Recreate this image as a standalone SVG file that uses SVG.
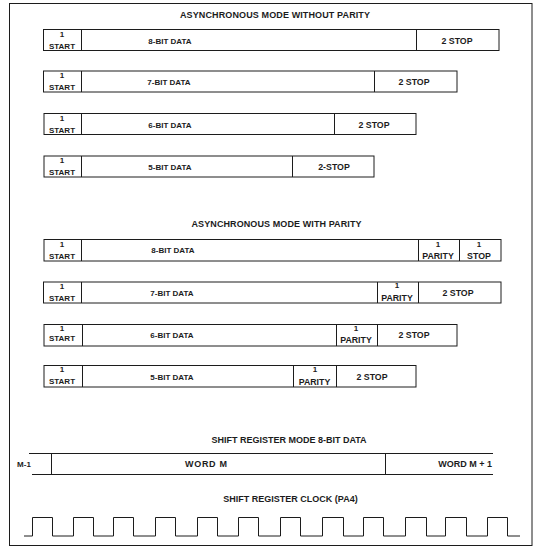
<svg xmlns="http://www.w3.org/2000/svg" width="539" height="549" viewBox="0 0 539 549">
<style>
.ln{fill:none;stroke:#1c1c1c;stroke-width:1}
.t{font-family:"Liberation Sans",Arial,Helvetica,sans-serif;font-weight:bold;font-size:8px;fill:#1c1c1c;text-anchor:middle}
.h{font-size:9px}
.s{font-size:8.8px}
.e{text-anchor:end}
</style>
<rect x="0" y="0" width="539" height="549" fill="#ffffff"/>
<rect id="frame" class="ln" x="9.5" y="3.5" width="522.5" height="542"/>

<g id="titles">
<text class="t h" x="275" y="18" textLength="190" lengthAdjust="spacing">ASYNCHRONOUS MODE WITHOUT PARITY</text>
<text class="t h" x="276.5" y="227" textLength="170" lengthAdjust="spacing">ASYNCHRONOUS MODE WITH PARITY</text>
<text class="t h" x="289" y="443">SHIFT REGISTER MODE 8-BIT DATA</text>
<text class="t h" x="290.5" y="502">SHIFT REGISTER CLOCK (PA4)</text>
</g>

<!-- Without parity -->
<g id="np8">
<rect class="ln" x="43.5" y="29.5" width="455.5" height="21"/>
<path class="ln" d="M81.5 29.5V50.5M416.5 29.5V50.5"/>
<text class="t" x="62" y="36.5">1</text>
<text class="t" x="62" y="48.5">START</text>
<text class="t" x="170" y="44">8-BIT DATA</text>
<text class="t s" x="457" y="44">2 STOP</text>
</g>
<g id="np7">
<rect class="ln" x="43.5" y="71" width="413.5" height="21"/>
<path class="ln" d="M81.5 71V92M374.5 71V92"/>
<text class="t" x="62" y="78">1</text>
<text class="t" x="62" y="90">START</text>
<text class="t" x="169" y="85">7-BIT DATA</text>
<text class="t s" x="414" y="85">2 STOP</text>
</g>
<g id="np6">
<rect class="ln" x="44" y="113.5" width="372" height="21"/>
<path class="ln" d="M81.5 113.5V134.5M334.5 113.5V134.5"/>
<text class="t" x="62" y="120.5">1</text>
<text class="t" x="62" y="132.5">START</text>
<text class="t" x="170" y="127.5">6-BIT DATA</text>
<text class="t s" x="374" y="127.5">2 STOP</text>
</g>
<g id="np5">
<rect class="ln" x="44" y="156" width="330" height="21"/>
<path class="ln" d="M81.5 156V177M292.5 156V177"/>
<text class="t" x="62" y="163">1</text>
<text class="t" x="62" y="175">START</text>
<text class="t" x="170" y="170">5-BIT DATA</text>
<text class="t s" x="334" y="170">2-STOP</text>
</g>

<!-- With parity -->
<g id="p8">
<rect class="ln" x="44" y="239.5" width="457" height="21.5"/>
<path class="ln" d="M81.5 239.5V261M418.5 239.5V261M459.5 239.5V261"/>
<text class="t" x="62" y="246.5">1</text>
<text class="t" x="62" y="258.5">START</text>
<text class="t" x="173" y="253">8-BIT DATA</text>
<text class="t" x="438" y="247">1</text>
<text class="t s" x="438" y="259">PARITY</text>
<text class="t" x="479" y="247">1</text>
<text class="t s" x="479" y="259">STOP</text>
</g>
<g id="p7">
<rect class="ln" x="43.5" y="282" width="457.5" height="21"/>
<path class="ln" d="M81.5 282V303M377.5 282V303M418.5 282V303"/>
<text class="t" x="62" y="288.5">1</text>
<text class="t" x="62" y="300.5">START</text>
<text class="t" x="172" y="295.5">7-BIT DATA</text>
<text class="t" x="397" y="288">1</text>
<text class="t s" x="397" y="301">PARITY</text>
<text class="t s" x="458" y="295.5">2 STOP</text>
</g>
<g id="p6">
<rect class="ln" x="44" y="324.5" width="413" height="21.5"/>
<path class="ln" d="M82.5 324.5V346M336.5 324.5V346M377.5 324.5V346"/>
<text class="t" x="62" y="331">1</text>
<text class="t" x="62" y="341">START</text>
<text class="t" x="172" y="337.5">6-BIT DATA</text>
<text class="t" x="356" y="330.5">1</text>
<text class="t s" x="356" y="343">PARITY</text>
<text class="t s" x="414" y="337.5">2 STOP</text>
</g>
<g id="p5">
<rect class="ln" x="44" y="365.5" width="372" height="21.5"/>
<path class="ln" d="M82.5 365.5V387M293.5 365.5V387M336.5 365.5V387"/>
<text class="t" x="62" y="371.5">1</text>
<text class="t" x="62" y="383.5">START</text>
<text class="t" x="172" y="380">5-BIT DATA</text>
<text class="t" x="315" y="371.5">1</text>
<text class="t s" x="314.5" y="385">PARITY</text>
<text class="t s" x="372" y="380">2 STOP</text>
</g>

<!-- Shift register -->
<g id="shift-data">
<path class="ln" d="M29 453.5H493M32 474.5H493M51.5 453.5V474.5M385.5 453.5V474.5"/>
<text class="t" x="24" y="467">M-1</text>
<text class="t h" x="206" y="467" textLength="42" lengthAdjust="spacing">WORD M</text>
<text class="t h e" x="492" y="467">WORD M + 1</text>
</g>

<g id="clock">
<path class="ln" d="M24 536H32.5V517.5H52.5V536H73.5V517.5H93.5V536H113.5V517.5H133.5V536H155.5V517.5H175.5V536H197.5V517.5H217.5V536H238.5V517.5H258.5V536H280.5V517.5H300.5V536H322.5V517.5H343.5V536H363.5V517.5H383.5V536H405.5V517.5H426.5V536H445.5V517.5H466.5V536H487.5V517.5H507.5V536H520"/>
</g>
<g id="connectors"></g>
</svg>
